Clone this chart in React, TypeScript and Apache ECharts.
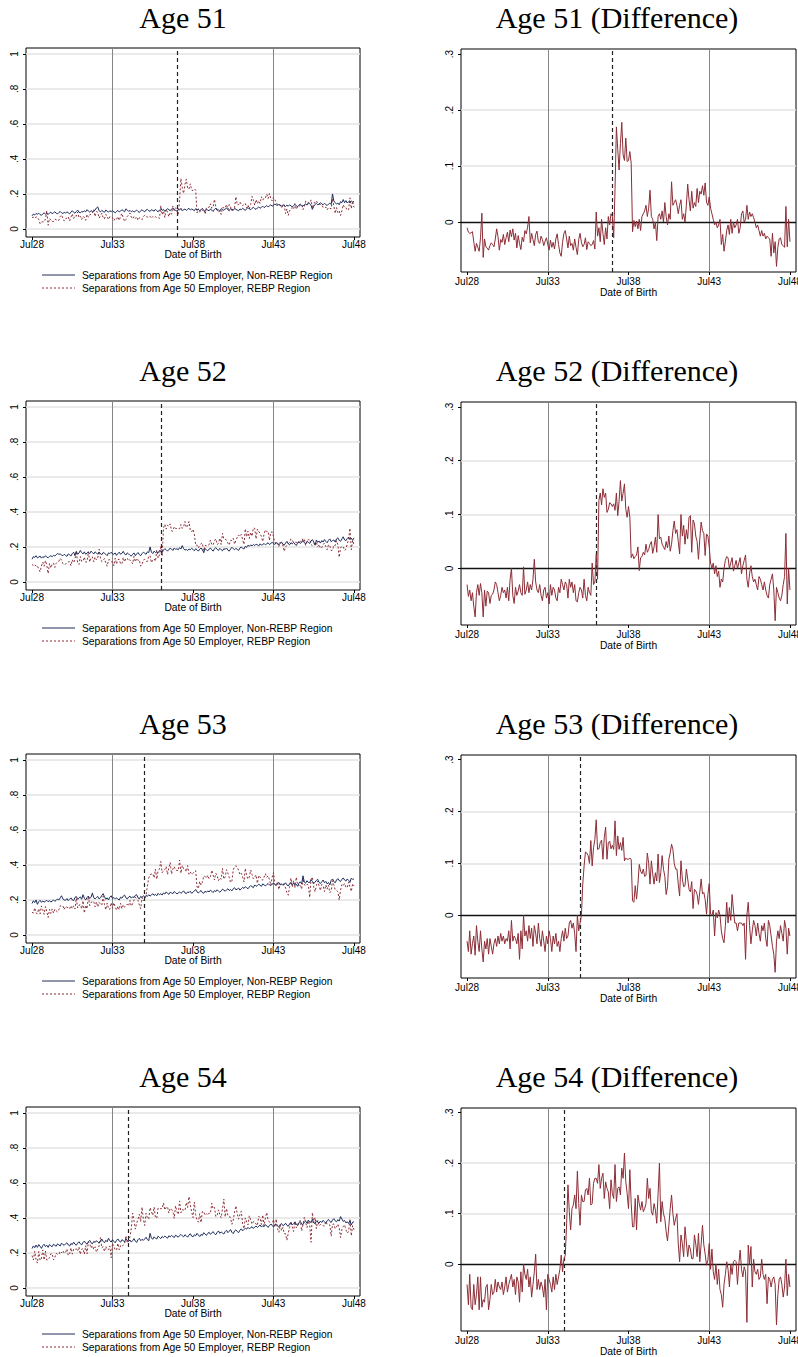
import React, { useEffect, useRef } from "react";
import * as echarts from "echarts";

// ---------- axis ticks / labels ----------
const xTickMonths = [0, 60, 120, 180, 240];
const xTickLabels = ["Jul28", "Jul33", "Jul38", "Jul43", "Jul48"];
const leftYTicks = [0, 0.2, 0.4, 0.6, 0.8, 1];
const leftYLabels = ["0", ".2", ".4", ".6", ".8", "1"];
const rightYTicks = [0, 0.1, 0.2, 0.3];
const rightYLabels = ["0", ".1", ".2", ".3"];
const rightGridTicks = [0.1, 0.2];
const grayLineMonths = [60, 180];

// ---------- panels ----------
const ages = [51, 52, 53, 54];
const cutoffMonths = [108, 96, 84, 72];
const rightYMin = [-0.089, -0.105, -0.121, -0.132];
const legendNon = "Separations from Age 50 Employer, Non-REBP Region";
const legendRebp = "Separations from Age 50 Employer, REBP Region";

// ---------- data (thousandths), month index 0 = Jul28 ... 240 = Jul48 ----------
const nonRebp51 = [
  75, 85, 80, 88, 84, 90, 82, 78, 86, 92, 85, 88,
  84, 90, 95, 88, 92, 98, 90, 86, 94, 100, 92, 88,
  95, 90, 98, 92, 86, 96, 104, 95, 90, 99, 108, 96,
  92, 100, 96, 104, 98, 110, 102, 96, 105, 98, 102, 108,
  120, 126, 104, 98, 106, 100, 95, 108, 102, 96, 104, 99,
  104, 98, 92, 100, 106, 97, 102, 110, 104, 98, 115, 108,
  100, 106, 98, 104, 96, 102, 108, 100, 94, 104, 110, 102,
  98, 108, 112, 104, 100, 110, 106, 102, 112, 104, 98, 108,
  115, 106, 112, 100, 108, 116, 110, 104, 114, 120, 110, 106,
  102, 112, 108, 118, 104, 110, 114, 106, 112, 118, 108, 114,
  110, 104, 116, 108, 112, 104, 110, 118, 106, 100, 112, 108,
  104, 114, 108, 100, 112, 118, 106, 110, 102, 116, 112, 106,
  114, 120, 110, 104, 116, 110, 106, 118, 112, 108, 104, 114,
  110, 118, 112, 106, 116, 122, 114, 110, 118, 124, 116, 112,
  120, 126, 118, 124, 130, 122, 128, 134, 126, 132, 138, 130,
  136, 142, 138, 134, 140, 136, 130, 138, 134, 128, 136, 130,
  138, 132, 126, 134, 140, 132, 128, 136, 142, 134, 130, 138,
  144, 136, 150, 142, 136, 112, 130, 140, 146, 138, 142, 150,
  144, 138, 146, 140, 134, 142, 148, 140, 200, 160, 150, 142,
  148, 138, 156, 150, 168, 150, 162, 148, 156, 150, 160, 154,
  158,
];
const diff51 = [
  -10, -18, -20, -19, -17, -35, -52, -38, -45, -52, -28, 16,
  -63, -30, -44, -46, -50, -42, -37, -40, -44, -30, -12, -26,
  -50, -31, -36, -22, -40, -28, -18, -35, -14, -26, -12, -32,
  -20, -46, -24, -38, -49, -27, -35, -15, -21, -9, 10, -37,
  -20, -31, -42, -22, -16, -35, -38, -25, -31, -42, -34, -28,
  -40, -50, -32, -45, -36, -48, -30, -21, -40, -55, -61, -36,
  -20, -15, -30, -46, -25, -42, -38, -50, -30, -45, -58, -31,
  -20, -36, -44, -40, -28, -49, -35, -38, -42, -40, -33, -48,
  18, -25, -10, -35, 5, -20, -40, -10, -30, 10, -5, 15,
  10, -28, 60, 170, 130, 93, 140, 178, 120, 110, 150, 108,
  110, 126, 105, -17, 3, -8, 2, -12, 5, -15, 10, 15,
  20, 30, 10, 25, 57, 10, 5, -12, 0, -33, 10, 15,
  5, 20, 0, 35, 10, -5, 15, 5, 72, 30, 35, 40,
  30, 15, 30, 40, 5, 15, 0, 30, 68, 40, 20, 55,
  25, 35, 28, 60, 35, 55, 50, 65, 48, 70, 35, 30,
  45, 25, 15, 5, -5, 0, -10, -5, 5, -40, -22, -52,
  -35, -15, -5, -22, 5, -20, 0, -10, -5, 5, -20, -10,
  15, 20, 0, 5, 30, 5, 18, 10, 15, 8, 0, -10,
  -5, -15, -25, -15, -25, -20, -30, -25, -28, -30, -61, -20,
  -55, -35, -79, -45, -30, -28, -40, -42, -45, 28, -44, 5,
  -35,
];
const nonRebp52 = [
  130, 145, 140, 150, 138, 142, 148, 136, 144, 140, 150, 142,
  138, 146, 150, 144, 152, 148, 156, 162, 158, 160, 154, 150,
  158, 152, 146, 160, 155, 148, 162, 170, 150, 175, 158, 165,
  180, 168, 160, 172, 158, 166, 170, 162, 176, 168, 160, 172,
  166, 158, 170, 162, 156, 168, 164, 158, 150, 166, 162, 170,
  160, 158, 166, 152, 162, 170, 158, 164, 175, 160, 154, 166,
  160, 152, 148, 158, 166, 150, 160, 168, 156, 150, 162, 170,
  164, 158, 172, 168, 200, 170, 162, 176, 168, 172, 166, 180,
  176, 168, 182, 190, 184, 176, 186, 192, 188, 180, 194, 186,
  190, 184, 196, 188, 208, 190, 182, 186, 180, 188, 184, 192,
  186, 178, 190, 184, 176, 188, 194, 182, 170, 190, 184, 178,
  188, 194, 184, 176, 190, 196, 186, 180, 192, 184, 178, 190,
  186, 194, 182, 176, 188, 198, 190, 184, 192, 186, 180, 194,
  200, 192, 188, 204, 198, 210, 204, 212, 206, 214, 208, 216,
  212, 206, 218, 210, 214, 220, 212, 218, 224, 214, 220, 226,
  220, 214, 224, 218, 212, 222, 228, 216, 210, 222, 232, 218,
  212, 224, 218, 226, 216, 208, 222, 230, 220, 226, 238, 224,
  218, 232, 226, 220, 234, 242, 228, 210, 240, 226, 234, 222,
  236, 228, 242, 232, 224, 238, 246, 230, 236, 240, 228, 246,
  252, 238, 232, 246, 258, 240, 236, 248, 256, 242, 250, 238,
  252,
];
const diff52 = [
  -30, -52, -40, -60, -45, -70, -90, -45, -30, -50, -28, -45,
  -90, -40, -70, -42, -45, -65, -50, -48, -40, -25, -30, -45,
  -60, -50, -35, -45, -40, -55, -35, -60, -20, 0, -50, -65,
  -35, -50, -42, -30, -45, -50, 3, -48, -40, -25, -45, -30,
  -40, -20, 17, -25, -40, -45, -30, -50, -60, -40, -35, -55,
  -45, -66, -30, -50, -35, -40, -55, -60, -35, -45, -20, -30,
  -40, -25, -30, -55, -20, -35, -25, -45, -30, -60, -62, -45,
  -35, -40, -55, -20, -50, -60, -35, -45, -50, 10, -30, -25,
  26, -20, 126, 140, 118, 148, 132, 140, 104, 110, 122, 120,
  115, 120, 108, 140, 98, 125, 163, 125, 140, 157, 110, 95,
  115, 95, 20, 27, 18, 22, 25, 40, -4, 20, 22, 30,
  25, 45, 30, 35, 45, 50, 28, 40, 58, 30, 100, 55,
  58, 45, 40, 35, 50, 38, 60, 32, 45, 70, 88, 65,
  72, 50, 27, 100, 60, 80, 45, 72, 55, 95, 98, 30,
  90, 83, 60, 50, 17, 55, 86, 70, 65, 24, 64, 60,
  40, 10, 0, 10, -10, 5, -15, -5, -35, -20, -25, 0,
  15, 22, 20, 0, 10, 20, -5, 5, 15, 0, 10, 20,
  -10, 5, 15, 25, -20, -35, -10, 5, -15, -25, -20, -30,
  -40, -15, -20, -30, -40, -25, -40, -50, -55, -30, -20, -10,
  -40, -97, -35, -45, -55, -60, -50, -30, -15, 65, -66, 0,
  -40,
];
const nonRebp53 = [
  180, 195, 185, 200, 175, 190, 198, 186, 194, 188, 192, 198,
  190, 196, 188, 194, 200, 192, 198, 206, 200, 212, 224, 206,
  200, 198, 208, 196, 204, 212, 200, 196, 214, 220, 204, 210,
  218, 204, 230, 210, 200, 214, 222, 208, 216, 240, 212, 206,
  214, 220, 206, 212, 226, 236, 218, 204, 212, 200, 216, 224,
  208, 214, 206, 212, 204, 200, 216, 210, 222, 228, 212, 206,
  216, 222, 210, 218, 214, 226, 230, 212, 206, 220, 214, 224,
  218, 226, 220, 230, 222, 228, 236, 226, 232, 224, 238, 230,
  236, 228, 240, 234, 246, 238, 232, 244, 240, 236, 248, 242,
  234, 240, 246, 238, 244, 252, 240, 236, 246, 242, 250, 238,
  244, 252, 260, 246, 240, 248, 254, 242, 238, 250, 244, 252,
  246, 256, 250, 242, 254, 248, 258, 250, 244, 252, 262, 256,
  250, 258, 264, 254, 260, 252, 264, 270, 258, 262, 268, 256,
  264, 272, 266, 276, 270, 264, 274, 282, 276, 270, 286, 278,
  282, 290, 284, 278, 292, 286, 280, 288, 294, 286, 282, 290,
  296, 288, 282, 294, 300, 286, 292, 284, 290, 298, 286, 280,
  292, 300, 288, 296, 282, 290, 278, 296, 304, 292, 338, 302,
  296, 310, 300, 300, 316, 306, 294, 302, 312, 318, 300, 294,
  304, 314, 298, 306, 292, 300, 286, 312, 320, 306, 298, 314,
  322, 310, 306, 318, 326, 314, 308, 320, 312, 300, 324, 318,
  320,
];
const diff53 = [
  -50, -70, -30, -75, -55, -40, -77, -20, -50, -70, -30, -65,
  -90, -50, -65, -45, -75, -45, -60, -75, -55, -45, -60, -40,
  -55, -35, -50, -40, -55, -45, -50, -30, -65, -10, -50, -40,
  -45, -55, -35, -85, -30, -65, 0, -40, -30, -50, -20, -45,
  -25, -60, -20, -35, -55, -15, -45, -60, -30, -50, -70, -40,
  -55, -30, -45, -70, -40, -55, -35, -60, -50, -70, -45, -30,
  -50, -25, -45, -40, -15, -10, -25, -15, -35, -70, 0, -30,
  -15, 0, 60, 95, 122, 120, 115, 100, 144, 95, 130, 146,
  184, 127, 128, 140, 145, 108, 150, 170, 108, 140, 143, 128,
  135, 127, 182, 115, 153, 127, 140, 125, 150, 105, 110, 108,
  108, 110, 108, 28, 25, 57, 31, 60, 98, 85, 80, 89,
  75, 77, 120, 100, 60, 105, 80, 60, 82, 66, 118, 63,
  82, 115, 89, 75, 40, 55, 108, 120, 137, 127, 100, 89,
  89, 60, 37, 105, 70, 55, 57, 89, 70, 50, 45, 65,
  13, 50, 47, 40, 21, 45, 70, 41, 44, 30, 2, 40,
  61, 2, 0, 10, -40, 5, -5, 10, 0, -30, -45, -53,
  -20, 25, -15, 15, -10, 40, 10, -15, -15, -30, -15, -15,
  -15, -20, -15, -85, 0, 25, -20, -55, -30, -10, -20, -40,
  -15, -35, -50, -20, -30, -15, -45, -60, -10, -20, -40, -60,
  -75, -110, -50, -30, -45, -20, -35, -50, -10, -25, -75, -25,
  -40,
];
const nonRebp54 = [
  225, 240, 230, 245, 232, 248, 238, 226, 242, 250, 236, 244,
  232, 248, 240, 236, 250, 244, 238, 252, 246, 240, 256, 248,
  244, 252, 258, 246, 240, 254, 248, 262, 250, 244, 256, 264,
  252, 246, 260, 268, 256, 250, 264, 272, 258, 252, 266, 260,
  270, 262, 256, 268, 280, 266, 258, 272, 264, 284, 270, 262,
  276, 266, 258, 272, 280, 268, 262, 276, 270, 264, 280, 272,
  266, 274, 262, 270, 282, 268, 260, 276, 284, 270, 278, 272,
  280, 290, 276, 270, 312, 286, 278, 292, 284, 280, 296, 288,
  282, 294, 288, 296, 290, 284, 298, 292, 300, 294, 288, 302,
  296, 290, 300, 306, 298, 292, 304, 298, 290, 302, 310, 296,
  292, 304, 298, 312, 302, 294, 306, 300, 316, 308, 300, 312,
  318, 306, 314, 322, 310, 304, 318, 326, 312, 320, 314, 308,
  322, 330, 316, 324, 334, 318, 310, 326, 332, 322, 316, 330,
  338, 326, 334, 342, 336, 346, 338, 344, 350, 340, 348, 354,
  346, 352, 360, 348, 356, 350, 362, 354, 346, 358, 364, 356,
  350, 358, 364, 354, 348, 362, 368, 356, 360, 370, 358, 352,
  366, 374, 360, 368, 378, 364, 356, 372, 380, 366, 362, 376,
  382, 370, 388, 376, 376, 392, 372, 368, 384, 376, 370, 382,
  374, 386, 378, 370, 384, 392, 380, 374, 388, 396, 384, 378,
  390, 382, 408, 394, 380, 386, 372, 378, 368, 384, 360, 376,
  378,
];
const diff54 = [
  -40, -80, -20, -85, -90, -40, -80, -60, -25, -90, -25, -85,
  -70, -75, -45, -40, -90, -70, -40, -60, -55, -30, -55, -35,
  -45, -50, -35, -60, -45, -25, -55, -40, -30, -20, -45, -30,
  -60, -25, -35, -75, -15, -55, 0, -20, -30, -10, -45, -25,
  -65, -40, -15, 20, -50, -30, -50, -35, -45, -65, -30, -90,
  -20, -30, -40, -55, -25, -50, -20, -40, -25, -10, 18, -15,
  10, 18, 80, 157, 104, 68, 110, 117, 137, 110, 184, 120,
  77, 137, 124, 124, 147, 150, 137, 170, 117, 120, 160, 170,
  170, 160, 197, 150, 170, 180, 130, 163, 150, 143, 110, 167,
  140, 130, 197, 124, 150, 153, 137, 190, 170, 220, 163, 140,
  110, 187, 120, 74, 74, 130, 68, 137, 120, 107, 124, 104,
  110, 120, 170, 130, 150, 104, 97, 120, 107, 81, 140, 200,
  84, 124, 100, 90, 64, 46, 77, 110, 137, 100, 77, 90,
  100, 40, 5, 58, 41, 15, 74, 44, 15, 38, 30, 11,
  11, 58, 40, 15, 61, 5, 40, 77, 38, 20, -2, 8,
  41, -10, 30, -15, -30, 0, -40, -10, -50, -60, -85, -40,
  -20, 5, -10, -45, 0, -20, 5, 8, 5, -40, 0, 28,
  -10, -25, -5, -15, -115, 38, 0, 35, -45, 10, -15, -20,
  -10, -30, -25, 10, -20, -30, -20, -78, -25, -30, -45, -30,
  -25, -40, -120, -60, -30, -25, -40, -65, -45, 10, -62, -20,
  -45,
];

const nonRebpByAge = [nonRebp51, nonRebp52, nonRebp53, nonRebp54];
const diffByAge = [diff51, diff52, diff53, diff54];

// ---------- styles ----------
const NAVY = "#1f2d5c";
const MAROON = "#8c2d36";
const GRID_GRAY = "#e3e3e3";
const VLINE_GRAY = "#858585";
const ROW_STEP = 353;
const SANS = "Liberation Sans";
const SERIF = "Liberation Serif";
const TICK_FONT = 10;
const NAME_FONT = 10.3;
const LEGEND_FONT = 10.3;

const fmtX = (v: number) => {
  const i = xTickMonths.findIndex((t) => Math.abs(t - v) < 1e-6);
  return i >= 0 ? xTickLabels[i] : "";
};
const fmtY = (ticks: number[], labels: string[]) => (v: number) => {
  const i = ticks.findIndex((t) => Math.abs(t - v) < 1e-6);
  return i >= 0 ? labels[i] : "";
};

function buildOption(): any {
  const grid: any[] = [];
  const xAxis: any[] = [];
  const yAxis: any[] = [];
  const series: any[] = [];
  const graphic: any[] = [];

  ages.forEach((age, r) => {
    const off = r * ROW_STEP;
    const gl = r * 2;
    const gr = r * 2 + 1;
    const non = nonRebpByAge[r];
    const dif = diffByAge[r];

    const gridBase = { show: true, borderColor: "#000", borderWidth: 1, backgroundColor: "transparent", containLabel: false, outerBoundsMode: "none" };
    grid.push({ ...gridBase, left: 26, top: 48 + off, width: 334, height: 189 });
    grid.push({ ...gridBase, left: 461, top: 49 + off, width: 335, height: 223 });

    const mkX = (gi: number, labelMargin: number, nameGap: number) => ({
      type: "value",
      gridIndex: gi,
      min: -4.5,
      max: 244.5,
      axisLine: { show: false, onZero: false },
      axisTick: { show: true, customValues: xTickMonths, length: 3, lineStyle: { color: "#000", width: 1 } },
      axisLabel: { customValues: xTickMonths, formatter: fmtX, fontSize: TICK_FONT, color: "#000", margin: labelMargin, fontFamily: SANS, hideOverlap: false },
      splitLine: { show: false },
      name: "Date of Birth",
      nameLocation: "middle",
      nameGap,
      nameTextStyle: { fontSize: NAME_FONT, color: "#000", fontFamily: SANS },
    });
    xAxis.push(mkX(gl, 2, 12));
    xAxis.push(mkX(gr, 4, 15));

    const mkY = (gi: number, min: number, max: number, ticks: number[], labels: string[]) => ({
      type: "value",
      gridIndex: gi,
      min,
      max,
      axisLine: { show: false, onZero: false },
      axisTick: { show: true, customValues: ticks, length: 3, lineStyle: { color: "#000", width: 1 } },
      axisLabel: { customValues: ticks, formatter: fmtY(ticks, labels), rotate: 90, fontSize: TICK_FONT, color: "#000", margin: 7, fontFamily: SANS },
      splitLine: { show: false },
    });
    yAxis.push(mkY(gl, -0.046, 1.034, leftYTicks, leftYLabels));
    yAxis.push(mkY(gr, rightYMin[r], 0.309, rightYTicks, rightYLabels));

    const nonData = non.map((v, i) => [i, v / 1000]);
    const rebpData = non.map((v, i) => [i, (v + dif[i]) / 1000]);
    const difData = dif.map((v, i) => [i, v / 1000]);

    // left panel
    series.push({
      type: "line",
      name: legendNon,
      xAxisIndex: gl,
      yAxisIndex: gl,
      data: nonData,
      showSymbol: false,
      symbol: "none",
      lineStyle: { color: NAVY, width: 1 },
      z: 4,
      silent: true,
      markLine: {
        silent: true,
        z: 1,
        symbol: ["none", "none"],
        label: { show: false },
        data: [
          ...leftYTicks.map((t) => ({ yAxis: t, lineStyle: { color: GRID_GRAY, width: 1.5, type: "solid" } })),
          ...grayLineMonths.map((m) => ({ xAxis: m, lineStyle: { color: VLINE_GRAY, width: 1, type: "solid" } })),
          { xAxis: cutoffMonths[r], lineStyle: { color: "#222", width: 1.2, type: [4, 3] } },
        ],
      },
    });
    series.push({
      type: "line",
      name: legendRebp,
      xAxisIndex: gl,
      yAxisIndex: gl,
      data: rebpData,
      showSymbol: false,
      symbol: "none",
      lineStyle: { color: MAROON, width: 1, type: [2, 2] },
      z: 3,
      silent: true,
    });

    // right panel
    series.push({
      type: "line",
      xAxisIndex: gr,
      yAxisIndex: gr,
      data: difData,
      showSymbol: false,
      symbol: "none",
      lineStyle: { color: MAROON, width: 1 },
      z: 4,
      silent: true,
      markLine: {
        silent: true,
        z: 1,
        symbol: ["none", "none"],
        label: { show: false },
        data: [
          ...rightGridTicks.map((t) => ({ yAxis: t, lineStyle: { color: GRID_GRAY, width: 1.5, type: "solid" } })),
          ...grayLineMonths.map((m) => ({ xAxis: m, lineStyle: { color: VLINE_GRAY, width: 1, type: "solid" } })),
          { yAxis: 0, lineStyle: { color: "#111", width: 1.3, type: "solid" } },
          { xAxis: cutoffMonths[r], lineStyle: { color: "#222", width: 1.2, type: [4, 3] } },
        ],
      },
    });

    // titles
    graphic.push({
      type: "text",
      x: 183,
      y: 17 + off,
      silent: true,
      style: { text: `Age ${age}`, fill: "#000", fontSize: 30, fontFamily: SERIF, align: "center", verticalAlign: "middle" },
    });
    graphic.push({
      type: "text",
      x: 617,
      y: 17 + off,
      silent: true,
      style: { text: `Age ${age} (Difference)`, fill: "#000", fontSize: 30, fontFamily: SERIF, align: "center", verticalAlign: "middle" },
    });

    // legend
    const ly1 = 275 + off;
    const ly2 = 288 + off;
    graphic.push({ type: "line", silent: true, shape: { x1: 42, y1: ly1, x2: 75, y2: ly1 }, style: { stroke: NAVY, lineWidth: 1 } });
    graphic.push({ type: "line", silent: true, shape: { x1: 42, y1: ly2, x2: 75, y2: ly2 }, style: { stroke: MAROON, lineWidth: 1, lineDash: [2, 2] } });
    graphic.push({
      type: "text",
      x: 82,
      y: ly1,
      silent: true,
      style: { text: legendNon, fill: "#000", fontSize: LEGEND_FONT, fontFamily: SANS, align: "left", verticalAlign: "middle" },
    });
    graphic.push({
      type: "text",
      x: 82,
      y: ly2,
      silent: true,
      style: { text: legendRebp, fill: "#000", fontSize: LEGEND_FONT, fontFamily: SANS, align: "left", verticalAlign: "middle" },
    });
  });

  return {
    animation: false,
    backgroundColor: "#fff",
    textStyle: { fontFamily: SANS },
    grid,
    xAxis,
    yAxis,
    series,
    graphic,
  };
}

export default function App() {
  const ref = useRef<HTMLDivElement>(null);
  useEffect(() => {
    document.body.style.margin = "0";
    if (!ref.current) return;
    const chart = echarts.init(ref.current, null, { renderer: "svg", width: 798, height: 1357 });
    chart.setOption(buildOption());
    return () => chart.dispose();
  }, []);
  return <div ref={ref} style={{ width: 798, height: 1357, background: "#fff" }} />;
}
